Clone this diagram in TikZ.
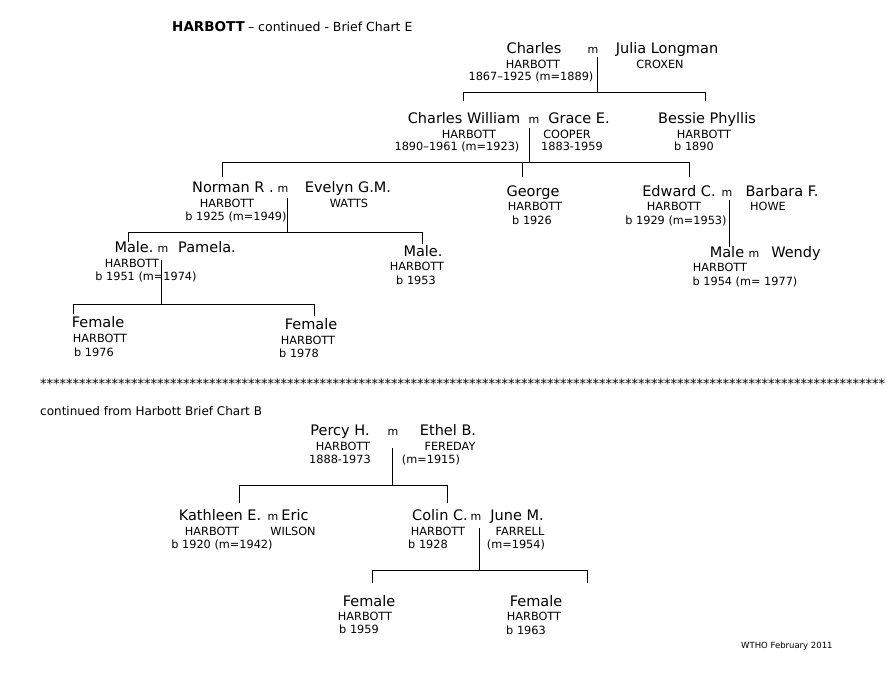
\documentclass[tikz,border=0pt]{standalone}
\usepackage{fontspec}
\setmainfont{DejaVu Sans}
\begin{document}
\begin{tikzpicture}[x=1pt,y=-1pt,
  nm/.style={font=\fontsize{14.5}{17}\selectfont, anchor=base, inner sep=0pt},
  sm/.style={font=\fontsize{11.3}{13}\selectfont, anchor=base, inner sep=0pt},
  mk/.style={font=\fontsize{11}{13}\selectfont, anchor=base, inner sep=0pt},
  ln/.style={draw=black, line width=0.9pt}]
\useasboundingbox[fill=white] (0,0) rectangle (893,680);
% title
\node[anchor=base west, inner sep=0pt] (title) at (172,31.7)
  {{\fontsize{13.5}{16}\selectfont\bfseries HARBOTT} {\fontsize{12.5}{15}\selectfont – continued - Brief Chart E}};
% generation 1
\node[nm] (ch1) at (534,53) {Charles};
\node[mk] (m1) at (593,53) {m};
\node[nm] (jl) at (667,53) {Julia Longman};
\node[sm] (h1) at (533,68) {HARBOTT};
\node[sm] (cx) at (660,68) {CROXEN};
\node[sm] (d1) at (531,80.5) {1867–1925 (m=1889)};
% generation 2
\node[nm] (cw) at (464,123) {Charles William};
\node[mk] (m2) at (534,123) {m};
\node[nm] (ge) at (579,123) {Grace E.};
\node[sm] (h2) at (469,138) {HARBOTT};
\node[sm] (d2) at (457,150.7) {1890–1961 (m=1923)};
\node[sm] (co) at (567,138) {COOPER};
\node[sm] (d2b) at (572,150.7) {1883-1959};
\node[nm] (bp) at (707,123) {Bessie Phyllis};
\node[sm] (h3) at (704,138) {HARBOTT};
\node[sm] (b3) at (694,150.7) {b 1890};
% generation 3
\node[nm] (nr) at (233,192.7) {Norman R .};
\node[mk] (m3) at (283,192.7) {m};
\node[nm] (ev) at (348,192.7) {Evelyn G.M.};
\node[sm] (h4) at (227,207.3) {HARBOTT};
\node[sm] (w4) at (349,207.3) {WATTS};
\node[sm] (b4) at (236,220) {b 1925 (m=1949)};
\node[nm] (gg) at (533,196) {George};
\node[sm] (h5) at (535,210) {HARBOTT};
\node[sm] (b5) at (532,224) {b 1926};
\node[nm] (ed) at (679,196) {Edward C.};
\node[mk] (m5) at (727,196) {m};
\node[nm] (bf) at (782,196) {Barbara F.};
\node[sm] (h6) at (674,210) {HARBOTT};
\node[sm] (how) at (768,210) {HOWE};
\node[sm] (b6) at (676,224) {b 1929 (m=1953)};
% Male m Wendy
\node[nm] (ml) at (727,257) {Male};
\node[mk] (m6) at (754,257) {m};
\node[nm] (wd) at (796,257) {Wendy};
\node[sm] (h7) at (720,271.7) {HARBOTT};
\node[sm] (b7) at (745,285) {b 1954 (m= 1977)};
% generation 4
\node[nm] (ma) at (134,252.7) {Male.};
\node[mk] (m7) at (163,252.7) {m};
\node[nm] (pa) at (207,252.7) {Pamela.};
\node[sm] (h8) at (132,267.3) {HARBOTT};
\node[sm] (b8) at (146,280) {b 1951 (m=1974)};
\node[nm] (mb) at (423,256) {Male.};
\node[sm] (h9) at (417,270) {HARBOTT};
\node[sm] (b9) at (416,284) {b 1953};
% generation 5
\node[nm] (f1) at (98,327.3) {Female};
\node[sm] (h10) at (100,342.3) {HARBOTT};
\node[sm] (b10) at (94,356) {b 1976};
\node[nm] (f2) at (311,329.3) {Female};
\node[sm] (h11) at (308,344) {HARBOTT};
\node[sm] (b11) at (299,357.3) {b 1978};
% lines top chart
\coordinate (v1t) at (597,57);  \coordinate (v1b) at (597,92);
\coordinate (r1l) at (463,92);  \coordinate (r1r) at (705,92);
\coordinate (t1l) at (463,101); \coordinate (t1r) at (705,101);
\draw[ln] (v1t) -- (v1b);
\draw[ln] (t1l) -- (r1l) -- (r1r) -- (t1r);
\coordinate (v2t) at (529,128); \coordinate (v2b) at (529,162);
\coordinate (r2l) at (222,162); \coordinate (r2r) at (689,162);
\coordinate (r2m) at (522,162);
\coordinate (t2l) at (222,177); \coordinate (t2m) at (522,177); \coordinate (t2r) at (689,177);
\draw[ln] (v2t) -- (v2b);
\draw[ln] (t2l) -- (r2l) -- (r2r) -- (t2r);
\draw[ln] (r2m) -- (t2m);
\coordinate (v3t) at (287,198); \coordinate (v3b) at (287,232);
\coordinate (r3l) at (128,232); \coordinate (r3r) at (422,232);
\coordinate (t3l) at (128,242); \coordinate (t3r) at (422,244);
\draw[ln] (v3t) -- (v3b);
\draw[ln] (t3l) -- (r3l) -- (r3r) -- (t3r);
\coordinate (v5t) at (729,200); \coordinate (v5b) at (729,247);
\draw[ln] (v5t) -- (v5b);
\coordinate (v7t) at (161,260); \coordinate (v7b) at (161,304);
\coordinate (r7l) at (73,304); \coordinate (r7r) at (314,304);
\coordinate (t7l) at (73,314); \coordinate (t7r) at (314,316);
\draw[ln] (v7t) -- (v7b);
\draw[ln] (t7l) -- (r7l) -- (r7r) -- (t7r);
% stars separator
\node[anchor=base west, inner sep=0pt, font=\fontsize{13}{15}\selectfont] (stars) at (40,388.5)
  {\foreach \i in {1,...,130}{*}};
% lower chart
\node[anchor=base west, inner sep=0pt, font=\fontsize{12}{14}\selectfont] (cont) at (40,415)
  {continued from Harbott Brief Chart B};
\node[nm] (pc) at (340,435.7) {Percy H.};
\node[mk] (m8) at (393,435.7) {m};
\node[nm] (eb) at (448,435.7) {Ethel B.};
\node[sm] (h12) at (343,450) {HARBOTT};
\node[sm] (fe) at (450,450) {FEREDAY};
\node[sm] (d12) at (340,463.3) {1888-1973};
\node[sm] (d12b) at (431,463.3) {(m=1915)};
\node[nm] (ka) at (220,520) {Kathleen E.};
\node[mk] (m9) at (273,520) {m};
\node[nm] (er) at (295,520) {Eric};
\node[sm] (h13) at (212,535) {HARBOTT};
\node[sm] (wi) at (293,535) {WILSON};
\node[sm] (b13) at (222,548.3) {b 1920 (m=1942)};
\node[nm] (cc) at (440,520) {Colin C.};
\node[mk] (m10) at (476,520) {m};
\node[nm] (jm) at (517,520) {June M.};
\node[sm] (h14) at (438,535) {HARBOTT};
\node[sm] (fa) at (520,535) {FARRELL};
\node[sm] (b14) at (428,548.3) {b 1928};
\node[sm] (d14) at (516,548.3) {(m=1954)};
\node[nm] (f3) at (369,606) {Female};
\node[sm] (h15) at (365,620) {HARBOTT};
\node[sm] (b15) at (359,633.3) {b 1959};
\node[nm] (f4) at (536,606.7) {Female};
\node[sm] (h16) at (534,620.7) {HARBOTT};
\node[sm] (b16) at (526,634) {b 1963};
\coordinate (v8t) at (392,448); \coordinate (v8b) at (392,485);
\coordinate (r8l) at (239,485); \coordinate (r8r) at (447,485);
\coordinate (t8l) at (239,503); \coordinate (t8r) at (447,503);
\draw[ln] (v8t) -- (v8b);
\draw[ln] (t8l) -- (r8l) -- (r8r) -- (t8r);
\coordinate (v10t) at (479,528); \coordinate (v10b) at (479,570);
\coordinate (r10l) at (372,570); \coordinate (r10r) at (587,570);
\coordinate (t10l) at (372,583); \coordinate (t10r) at (587,583);
\draw[ln] (v10t) -- (v10b);
\draw[ln] (t10l) -- (r10l) -- (r10r) -- (t10r);
\node[anchor=base west, inner sep=0pt, font=\fontsize{8.5}{10}\selectfont] (sig) at (741,648) {WTHO February 2011};
\end{tikzpicture}
\end{document}
